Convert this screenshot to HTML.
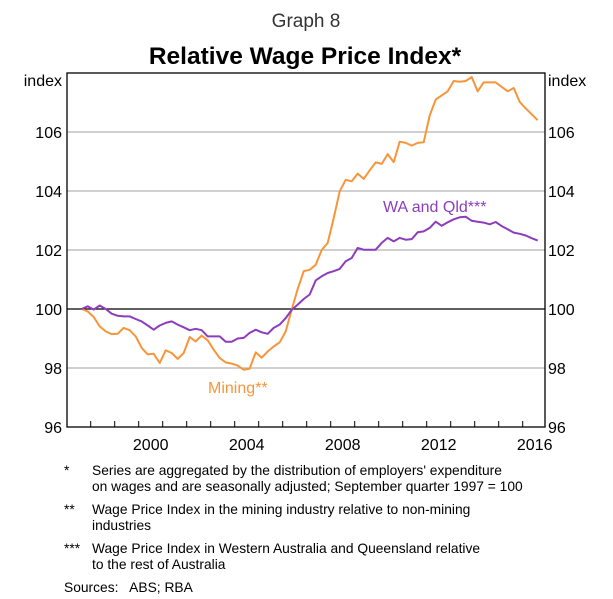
<!DOCTYPE html>
<html><head><meta charset="utf-8"><style>
body{margin:0;background:#fff;font-family:"Liberation Sans",Arial,sans-serif;}
#wrap{position:relative;width:613px;height:599px;overflow:hidden;}
.fn{position:absolute;font-size:13.8px;color:#000;line-height:16px;}
</style></head><body>
<div id="wrap">
<svg id="chart" width="613" height="599" style="position:absolute;left:0;top:0">
<text x="306" y="27" text-anchor="middle" font-size="19" fill="#333">Graph 8</text>
<text x="305" y="64" text-anchor="middle" font-size="24.5" font-weight="bold" fill="#000">Relative Wage Price Index*</text>
<text x="62" y="86" text-anchor="end" font-size="16">index</text>
<text x="548" y="86" font-size="16">index</text>
<g id="grid"></g><g id="series"></g><g id="axes"></g>
<text x="208" y="393" font-size="16" fill="#f7953a">Mining**</text>
<text x="383" y="212" font-size="16" fill="#8d3dbc">WA and Qld***</text>
</svg>
<div class="fn" style="left:64px;top:463px">*</div>
<div class="fn" style="left:92px;top:463px">Series are aggregated by the distribution of employers' expenditure<br>on wages and are seasonally adjusted; September quarter 1997 = 100</div>
<div class="fn" style="left:64px;top:502px">**</div>
<div class="fn" style="left:92px;top:502px">Wage Price Index in the mining industry relative to non-mining<br>industries</div>
<div class="fn" style="left:64px;top:541px">***</div>
<div class="fn" style="left:92px;top:541px">Wage Price Index in Western Australia and Queensland relative<br>to the rest of Australia</div>
<div class="fn" style="left:64px;top:580px">Sources:&nbsp;&nbsp; ABS; RBA</div>
</div>
<script>
const yTicks=[96,98,100,102,104,106];
const xLabels=[2000,2004,2008,2012,2016];
const startYear=1997.625;
const mining=[100,99.92,99.73,99.41,99.24,99.15,99.16,99.36,99.28,99.07,98.68,98.46,98.48,98.17,98.6,98.51,98.31,98.51,99.05,98.9,99.1,98.94,98.62,98.34,98.19,98.15,98.08,97.94,97.98,98.53,98.35,98.56,98.73,98.87,99.24,99.98,100.68,101.28,101.33,101.5,102.0,102.24,103.08,103.99,104.38,104.33,104.59,104.41,104.7,104.97,104.92,105.25,104.98,105.67,105.63,105.54,105.63,105.65,106.56,107.1,107.24,107.38,107.73,107.7,107.73,107.86,107.38,107.68,107.68,107.68,107.53,107.38,107.49,107.02,106.8,106.6,106.4];
const waQld=[100,100.09,99.98,100.12,100,99.84,99.77,99.75,99.75,99.66,99.58,99.44,99.3,99.44,99.53,99.58,99.47,99.38,99.28,99.33,99.28,99.07,99.07,99.07,98.89,98.89,99.0,99.02,99.19,99.3,99.21,99.16,99.36,99.47,99.69,99.97,100.15,100.34,100.49,100.97,101.11,101.22,101.28,101.36,101.62,101.73,102.07,102.01,102.01,102.01,102.24,102.41,102.29,102.41,102.35,102.37,102.6,102.63,102.75,102.96,102.82,102.94,103.04,103.11,103.13,102.99,102.96,102.93,102.87,102.95,102.81,102.7,102.59,102.55,102.49,102.4,102.32];
const NS='http://www.w3.org/2000/svg';
const L=67,R=545,T=73,B=427;
function xs(t){return 66.7+(t-1997)*24;}
function ys(v){return B-(v-96)*(B-T)/12;}
function mk(tag,attrs,parent){const e=document.createElementNS(NS,tag);for(const k in attrs)e.setAttribute(k,attrs[k]);parent.appendChild(e);return e;}
const grid=document.getElementById('grid'),ser=document.getElementById('series'),ax=document.getElementById('axes');
yTicks.forEach(v=>{
  if(v>96){const g=mk('line',{x1:L,x2:R,y1:ys(v),y2:ys(v),stroke:v===100?'#000':'#b4b4b4','stroke-width':v===100?1.3:1.2},grid);
  
  }
  const a=mk('text',{x:62,y:ys(v)+6,'text-anchor':'end','font-size':16},ax);a.textContent=v;
  
  
  const b=mk('text',{x:548,y:ys(v)+6,'font-size':16},ax);b.textContent=v;
  
  
});
for(let y=1998;y<=2016;y++){const t=mk('line',{x1:xs(y),x2:xs(y),y1:B,y2:B-6,stroke:'#000','stroke-width':1},ax);
  
  }
xLabels.forEach(y=>{const t=mk('text',{x:xs(y+0.5),y:B+23,'text-anchor':'middle','font-size':16},ax);t.textContent=y;
  
  });
const fr=mk('rect',{x:L,y:T,width:R-L,height:B-T,fill:'none',stroke:'#000','stroke-width':1.3},ax);


function line(data,color,name){const pts=data.map((v,i)=>xs(startYear+i*0.25).toFixed(1)+','+ys(v).toFixed(1)).join(' ');
  const p=mk('polyline',{points:pts,fill:'none',stroke:color,'stroke-width':2,'stroke-linejoin':'round'},ser);
  
  }
line(mining,'#f7953a','mining-line');
line(waQld,'#8d3dbc','wa-qld-line');
</script>
</body></html>
